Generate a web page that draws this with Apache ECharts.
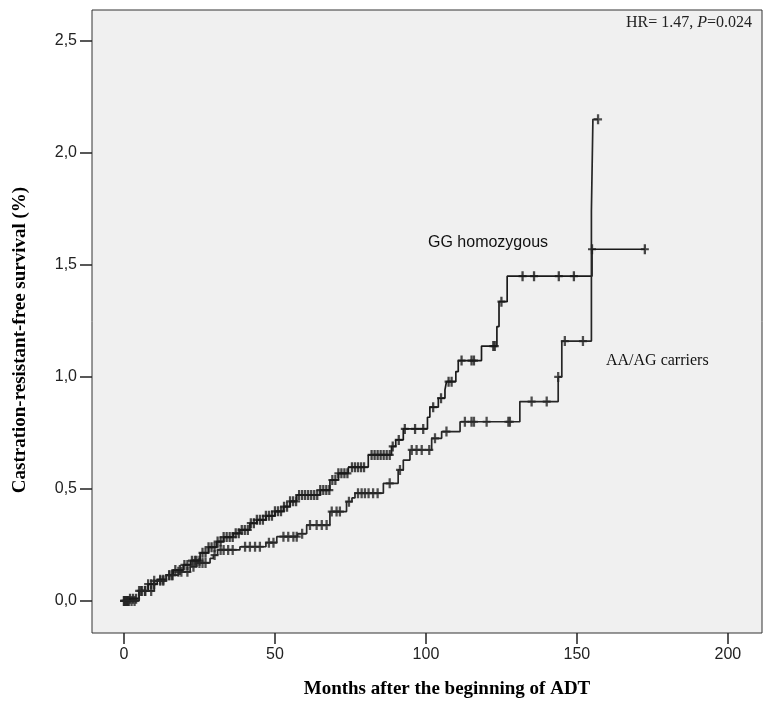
<!DOCTYPE html>
<html>
<head>
<meta charset="utf-8">
<script src="https://cdn.jsdelivr.net/npm/echarts@6/dist/echarts.min.js"></script>
<style>
  html, body { margin: 0; padding: 0; background: #fff; }
  #chart { width: 770px; height: 706px; }
</style>
</head>
<body>
<div id="chart"></div>
<script>
  // tick labels
  var xTicks = [0, 50, 100, 150, 200];
  var yTicks = [0, 0.5, 1, 1.5, 2, 2.5];

  // GG homozygous: [month, cumulative %] step points (value holds from that month on)
  var ggSteps = [
    [0, 0], [2, 0.01], [5, 0.045], [8, 0.075], [11, 0.095], [14, 0.115], [16.3, 0.138],
    [19.6, 0.161], [22, 0.18], [25.2, 0.215], [28, 0.24], [30.7, 0.265], [33, 0.285],
    [36.2, 0.302], [38.4, 0.317], [41.7, 0.347], [44, 0.362], [47, 0.38], [50, 0.4],
    [52.8, 0.421], [55, 0.445], [57.2, 0.473], [65, 0.495], [68.2, 0.54], [71, 0.57],
    [74.3, 0.597], [80.9, 0.652], [88.6, 0.69], [90, 0.719], [92.5, 0.768], [100.5, 0.82],
    [101.3, 0.865], [104.1, 0.905], [106.3, 0.942], [106.8, 0.979], [109.9, 1.024],
    [110.7, 1.073], [118.4, 1.138], [123.5, 1.225], [124.2, 1.336], [126.9, 1.45],
    [155, 1.57], [172.5, 1.57]
  ];
  // AA/AG carriers
  var aaSteps = [
    [0, 0], [5, 0.045], [10, 0.09], [14, 0.115], [18, 0.13], [21.9, 0.153], [24.1, 0.17],
    [28.5, 0.19], [29.6, 0.205], [31, 0.228], [38.4, 0.242], [47, 0.26], [50.6, 0.287],
    [57.5, 0.3], [60.5, 0.339], [68.2, 0.399], [73.7, 0.443], [75.5, 0.46], [76.5, 0.481],
    [85.9, 0.525], [90.8, 0.585], [92.5, 0.629], [94.7, 0.674], [101.9, 0.726],
    [105.2, 0.756], [111.3, 0.8], [131.1, 0.89], [143.8, 1.0], [145, 1.16], [154.8, 1.74],
    [155.3, 2.15], [157, 2.15]
  ];

  // censored months
  var ggCensor = [0, 0.5, 1, 1.5, 2, 3, 4, 5.5, 6, 7, 8, 9, 10, 12, 13, 15, 16, 17, 18.5,
    20, 21, 22.5, 23.5, 24, 25, 26, 27, 28, 29, 30, 31, 32, 33, 34, 35, 36, 37, 38, 39,
    40, 41, 42, 43, 44, 45, 46, 47, 48, 49, 50, 51, 52, 53, 54, 55, 56, 57, 58, 59, 60,
    61, 62, 63, 64, 65, 66, 67, 68, 69, 70, 71, 72, 73, 74, 75.5, 76.5, 77.5, 78.5, 79.5,
    82, 83, 84, 85, 86, 87, 88, 89, 91, 93, 96.4, 99.1, 102.4, 105, 107.5, 108.5, 111.8,
    115.1, 115.9, 122.3, 122.8, 125, 132, 135.8, 144, 149, 155, 172.5];
  var aaCensor = [0, 0.5, 1, 1.5, 2.5, 3.5, 5, 7, 9, 10, 12, 13, 15, 16, 18, 19, 21, 23,
    25, 26, 27, 30, 32, 33, 34.5, 36, 40.1, 41.7, 43.4, 45, 48, 49.5, 52.8, 54.4, 56.1,
    57.2, 59, 61.6, 63.8, 65.5, 67.1, 68.8, 70.4, 71.5, 74.5, 77.5, 78.7, 79.8, 81, 82.5,
    84, 88, 91.4, 95.3, 96.9, 98.6, 101.1, 103, 106.8, 112.9, 115.1, 115.9, 120.1, 127.3,
    127.8, 135, 140, 143.8, 146, 152, 157];

  function valueAt(steps, t) {
    var v = steps[0][1];
    for (var i = 0; i < steps.length; i++) {
      if (steps[i][0] <= t) v = steps[i][1];
    }
    return v;
  }

  var plus = 'path://M25,0 L45,0 L45,35 L70,35 L70,55 L45,55 L45,90 L25,90 L25,55 L0,55 L0,35 L25,35 Z';
  var lineCol = '#1a1a1a';
  var serif = 'Liberation Serif, Times New Roman, serif';
  var sans = 'Liberation Sans, Arial, sans-serif';

  var chart = echarts.init(document.getElementById('chart'));
  chart.setOption({
    animation: false,
    backgroundColor: '#ffffff',
    grid: {
      left: 92, top: 10, right: 8, bottom: 73,
      show: true,
      backgroundColor: '#f0f0f0',
      borderColor: '#333333',
      borderWidth: 1
    },
    xAxis: {
      type: 'value',
      min: -10.6,
      max: 211.3,
      axisLine: {show: false, onZero: false},
      splitLine: {show: false},
      axisTick: {show: true, inside: false, length: 11, customValues: xTicks, lineStyle: {color: '#222', width: 1.5}},
      axisLabel: {
        customValues: xTicks, margin: 14, color: '#222',
        fontFamily: sans, fontSize: 16
      }
    },
    yAxis: {
      type: 'value',
      min: -0.143,
      max: 2.638,
      axisLine: {show: false, onZero: false},
      splitLine: {show: false},
      axisTick: {show: true, inside: false, length: 12, customValues: yTicks, lineStyle: {color: '#222', width: 1.5}},
      axisLabel: {
        customValues: yTicks, margin: 15, color: '#222',
        fontFamily: sans, fontSize: 16,
        formatter: function (v) { return v.toFixed(1).replace('.', ','); }
      }
    },
    graphic: [
      {
        type: 'text', x: 447, y: 689,
        style: {
          text: 'Months after the beginning of ADT', fontFamily: serif, fontWeight: 'bold',
          fontSize: 19, fill: '#000', align: 'center', verticalAlign: 'middle'
        }
      },
      {
        type: 'text', x: 20, y: 340, rotation: Math.PI / 2,
        style: {
          text: 'Castration-resistant-free survival (%)', fontFamily: serif, fontWeight: 'bold',
          fontSize: 19, fill: '#000', align: 'center', verticalAlign: 'middle'
        }
      },
      {
        type: 'text', right: 18, top: 15,
        style: {
          text: '{n|HR= 1.47, }{i|P}{n|=0.024}',
          rich: {
            n: {fontFamily: serif, fontSize: 16, fill: '#222'},
            i: {fontFamily: serif, fontSize: 16, fontStyle: 'italic', fill: '#222'}
          }
        }
      },
      {
        type: 'text', left: 428, top: 235,
        style: {text: 'GG homozygous', fontFamily: sans, fontSize: 16, fill: '#111'}
      },
      {
        type: 'text', left: 606, top: 353,
        style: {text: 'AA/AG carriers', fontFamily: serif, fontSize: 16, fill: '#111'}
      }
    ],
    series: [
      {
        name: 'GG homozygous', type: 'line', step: 'end', data: ggSteps,
        showSymbol: false, lineStyle: {color: lineCol, width: 1.7}
      },
      {
        name: 'AA/AG carriers', type: 'line', step: 'end', data: aaSteps,
        showSymbol: false, lineStyle: {color: '#262626', width: 1.7}
      },
      {
        type: 'scatter', symbol: plus, symbolSize: [8, 10],
        itemStyle: {color: lineCol},
        data: ggCensor.map(function (t) { return [t, valueAt(ggSteps, t)]; })
      },
      {
        type: 'scatter', symbol: plus, symbolSize: [8, 10],
        itemStyle: {color: '#262626'},
        data: aaCensor.map(function (t) { return [t, valueAt(aaSteps, t)]; })
      }
    ]
  });
</script>
</body>
</html>
